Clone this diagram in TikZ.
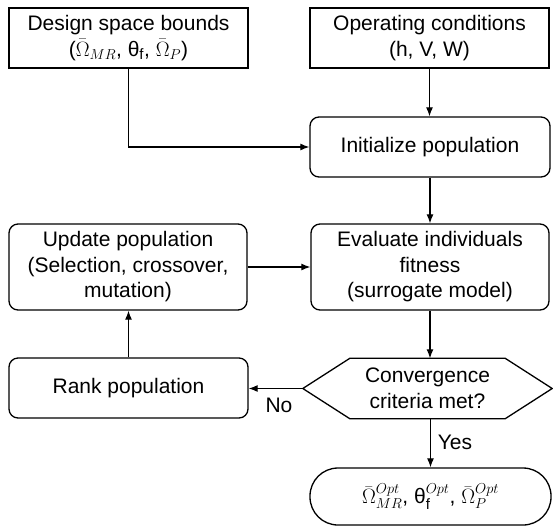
\documentclass[tikz,border=0pt]{standalone}
\usepackage{fontspec}
\setmainfont{Liberation Sans}
\newcommand\sbx[1]{\mbox{\fontsize{15}{15}\selectfont$#1$}}
\usetikzlibrary{arrows.meta,calc}
\begin{document}
\begin{tikzpicture}[x=1pt,y=-1pt,
  txt/.style={font=\fontsize{21}{25.5}\selectfont, align=center, inner sep=0pt},
  box/.style={txt, draw, line width=1.5pt, minimum width=239pt, minimum height=60pt},
  rbox/.style={box, rounded corners=9pt, line width=1.3pt},
  arr/.style={-{Latex[length=9pt,width=7pt]}, line width=1.2pt}]
\useasboundingbox (0,0) rectangle (553,528);
\node[box] (dsb) at (128.5,38) {Design space bounds\\($\bar{\Omega}_{\sbx{MR}}$, θ$_{\sbx{\mathrm{f}}}$, $\bar{\Omega}_{\sbx{P}}$)};
\node[box] (oc) at (429.5,38) {Operating conditions\\(h, V, W)};
\node[rbox, minimum width=240pt] (init) at (430,147) {Initialize population};
\node[rbox, minimum width=238pt, minimum height=86pt] (upd) at (128,267) {Update population\\(Selection, crossover,\\mutation)};
\node[rbox, minimum width=238pt, minimum height=86pt] (eval) at (430,267) {Evaluate individuals\\fitness\\(surrogate model)};
\node[txt, minimum width=249pt, minimum height=60pt] (hex) at (427.5,388.5) {Convergence\\criteria met?};
\draw[line width=1.3pt] (hex.west) -- ($(hex.north west)+(47,0)$) -- ($(hex.north east)+(-47,0)$) -- (hex.east) -- ($(hex.south east)+(-47,0)$) -- ($(hex.south west)+(47,0)$) -- cycle;
\node[rbox] (rank) at (128.5,388) {Rank population};
\node[txt, draw, line width=1.3pt, rounded corners=28pt, minimum width=241pt, minimum height=57pt] (term) at (430.5,496.5) {$\bar{\Omega}^{\sbx{Opt}}_{\sbx{MR}}$, θ$^{\sbx{Opt}}_{\sbx{\mathrm{f}}}$, $\bar{\Omega}^{\sbx{Opt}}_{\sbx{P}}$};
\node[txt] (no) at (279,405) {No};
\node[txt] (yes) at (455,442) {Yes};
\draw[arr] (dsb.south) |- (init.west);
\draw[arr] (oc.south) -- (oc.south |- init.north);
\draw[arr] (init.south) -- (init.south |- eval.north);
\draw[arr] (upd.east) -- (eval.west);
\draw[arr] (eval.south) -- (eval.south |- hex.north);
\draw[arr] (hex.west) -- (hex.west -| rank.east);
\draw[arr] (rank.north) -- (rank.north |- upd.south);
\draw[arr] (term.north |- hex.south) -- (term.north);
\end{tikzpicture}
\end{document}
